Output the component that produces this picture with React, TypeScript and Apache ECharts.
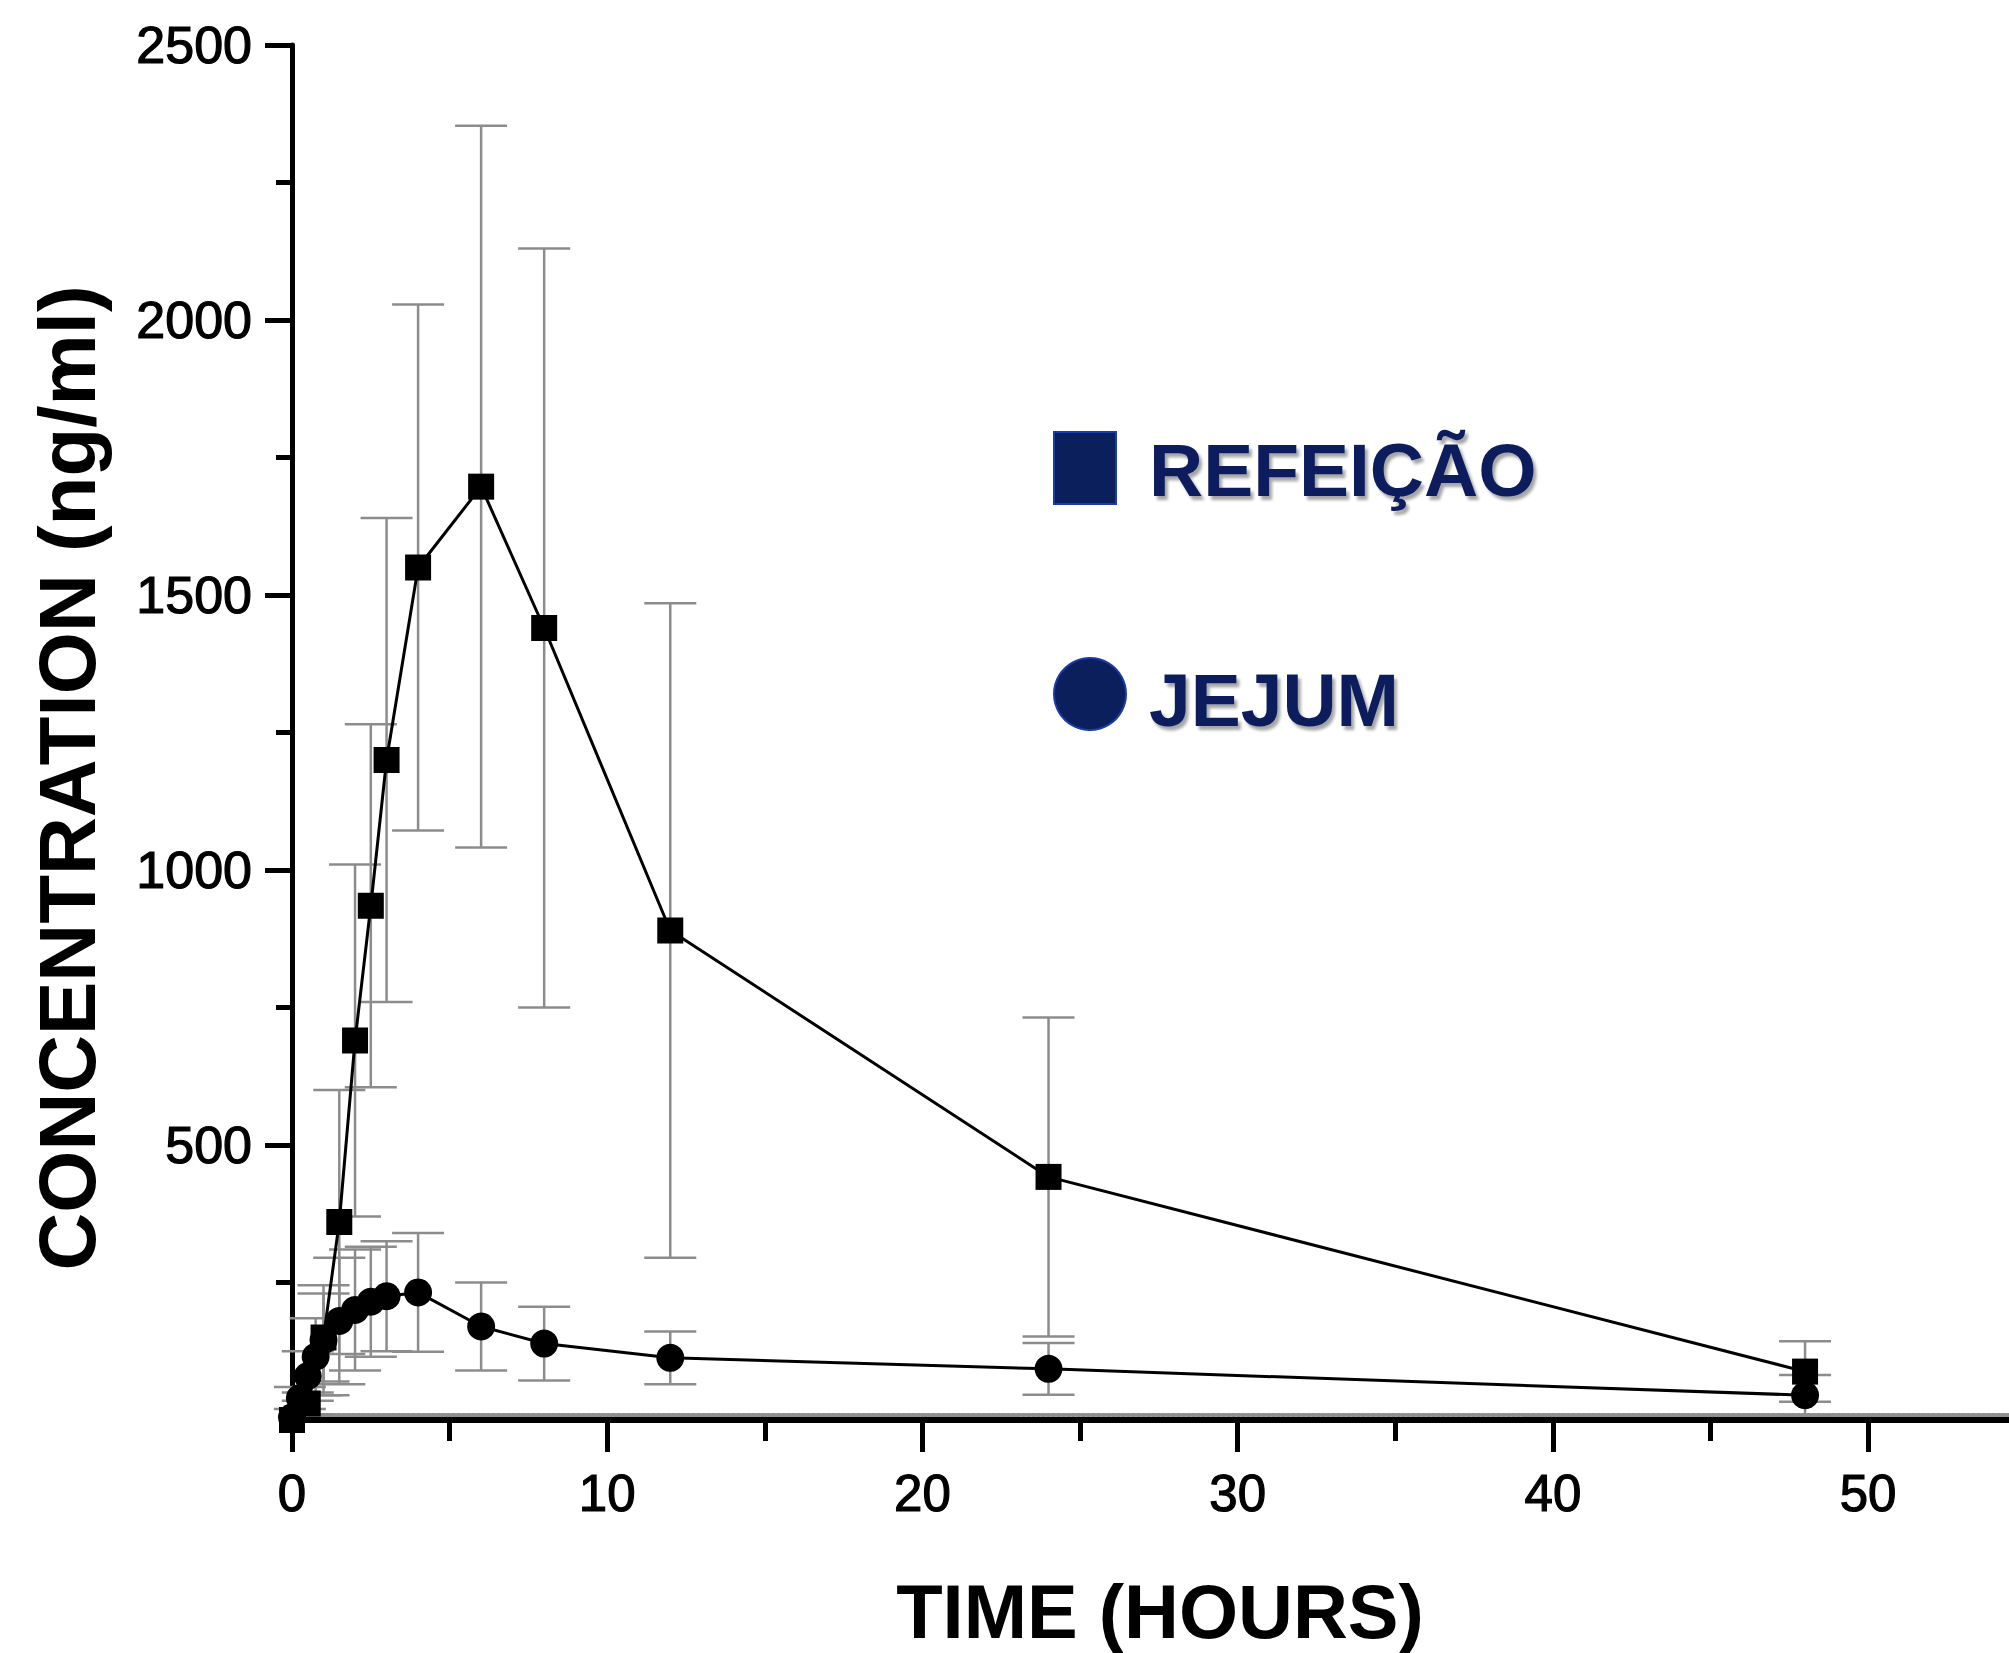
import React, { useEffect, useRef } from 'react';
import * as echarts from 'echarts';

// Time points (hours)
const refTimes = [0, 0.5, 1, 1.5, 2, 2.5, 3, 4, 6, 8, 12, 24, 48];
// REFEIÇÃO (fed) mean concentration (ng/ml) and SD
const refMean = [0, 30, 150, 360, 690, 935, 1200, 1550, 1697, 1440, 890, 442, 88];
const refSD = [0, 20, 80, 240, 320, 330, 440, 478, 656, 690, 595, 290, 55];

const jejTimes = [0, 0.25, 0.5, 0.75, 1, 1.5, 2, 2.5, 3, 4, 6, 8, 12, 24, 48];
// JEJUM (fasting) mean concentration (ng/ml) and SD
const jejMean = [5, 40, 80, 115, 145, 180, 200, 215, 225, 232, 170, 139, 113, 93, 45];
const jejSD = [0, 20, 45, 70, 100, 115, 110, 100, 100, 108, 80, 67, 48, 47, 37];

const yMajorTicks = [500, 1000, 1500, 2000, 2500];
const yMinorTicks = [250, 750, 1250, 1750, 2250];
const xMajorTicks = [0, 10, 20, 30, 40, 50];
const xMinorTicks = [5, 15, 25, 35, 45];

const legendLabels = ['REFEIÇÃO', 'JEJUM'];
const xTitle = 'TIME (HOURS)';
const yTitle = 'CONCENTRATION (ng/ml)';

export default function App() {
  const ref = useRef<HTMLDivElement>(null);
  useEffect(() => {
    document.body.style.margin = '0';
    const chart = echarts.init(ref.current as HTMLDivElement, null, { renderer: 'svg' });
    const font = '"Liberation Sans", Arial, sans-serif';
    const navy = '#0b1f5c';
    const xMax = 54.47;

    const errorSeries = (name: string, times: number[], mean: number[], sd: number[]) => ({
      type: 'custom',
      name: name + ' SD',
      z: 1,
      silent: true,
      data: times.map((t, i) => [t, mean[i] - sd[i], mean[i] + sd[i]]),
      encode: { x: 0, y: [1, 2] },
      renderItem: (params: any, api: any) => {
        const x = api.value(0);
        const lo = api.value(1);
        const hi = api.value(2);
        if (hi - lo <= 0) return { type: 'group', children: [] };
        const a = api.coord([x, hi]);
        const b = api.coord([x, Math.max(lo, 0)]);
        const hw = 26;
        const style = { stroke: '#8c8c8c', lineWidth: 2.5 };
        return {
          type: 'group',
          children: [
            { type: 'line', shape: { x1: a[0], y1: a[1], x2: b[0], y2: b[1] }, style },
            { type: 'line', shape: { x1: a[0] - hw, y1: a[1], x2: a[0] + hw, y2: a[1] }, style },
            { type: 'line', shape: { x1: b[0] - hw, y1: b[1], x2: b[0] + hw, y2: b[1] }, style },
          ],
        };
      },
    });

    const tickLabelStyle = { fontSize: 51, color: '#000', fontFamily: font, textBorderColor: '#000', textBorderWidth: 1.2 };
    const noSplit = { show: false };

    const option: any = {
      animation: false,
      backgroundColor: '#fff',
      grid: { left: 292, top: 45, right: 0, height: 1375, containLabel: false },
      xAxis: [
        {
          type: 'value', min: 0, max: xMax, interval: 10, position: 'bottom',
          axisLine: { show: true, onZero: false, lineStyle: { color: '#000', width: 6 } },
          axisTick: { show: true, length: 32, customValues: xMajorTicks, lineStyle: { width: 5, color: '#000' } },
          axisLabel: { ...tickLabelStyle, margin: 48, customValues: xMajorTicks, formatter: (v: number) => (xMajorTicks.includes(v) ? String(v) : '') },
          splitLine: noSplit,
        },
        {
          type: 'value', min: 0, max: xMax, interval: 5, position: 'bottom',
          axisLine: { show: false },
          axisTick: { show: true, length: 21, customValues: xMinorTicks, lineStyle: { width: 5, color: '#000' } },
          axisLabel: { show: false },
          splitLine: noSplit,
        },
        {
          type: 'value', min: 0, max: xMax, position: 'bottom', offset: -5,
          axisLine: { show: true, onZero: false, lineStyle: { color: '#8f8f8f', width: 4, type: [3, 2] } },
          axisTick: { show: false },
          axisLabel: { show: false },
          splitLine: noSplit,
        },
      ],
      yAxis: [
        {
          type: 'value', min: 0, max: 2500, interval: 500, position: 'left',
          axisLine: { show: true, onZero: false, lineStyle: { color: '#000', width: 5 } },
          axisTick: { show: true, length: 27, customValues: yMajorTicks, lineStyle: { width: 5, color: '#000' } },
          axisLabel: { ...tickLabelStyle, fontSize: 52, margin: 40, customValues: yMajorTicks, formatter: (v: number) => (yMajorTicks.includes(v) ? String(v) : '') },
          splitLine: noSplit,
        },
        {
          type: 'value', min: 0, max: 2500, interval: 250, position: 'left',
          axisLine: { show: false },
          axisTick: { show: true, length: 16, customValues: yMinorTicks, lineStyle: { width: 5, color: '#000' } },
          axisLabel: { show: false },
          splitLine: noSplit,
        },
      ],
      series: [
        errorSeries(legendLabels[0], refTimes, refMean, refSD),
        errorSeries(legendLabels[1], jejTimes, jejMean, jejSD),
        {
          type: 'line', name: legendLabels[0], z: 3,
          data: refTimes.map((t, i) => [t, refMean[i]]),
          symbol: 'rect', symbolSize: 26,
          itemStyle: { color: '#000' },
          lineStyle: { color: '#000', width: 3 },
        },
        {
          type: 'line', name: legendLabels[1], z: 3,
          data: jejTimes.map((t, i) => [t, jejMean[i]]),
          symbol: 'circle', symbolSize: 28,
          itemStyle: { color: '#000' },
          lineStyle: { color: '#000', width: 3 },
        },
      ],
      graphic: [
        {
          type: 'text', x: 67, y: 778, rotation: Math.PI / 2,
          style: { text: yTitle, font: `bold 80px ${font}`, fill: '#000', align: 'center', verticalAlign: 'middle' },
        },
        {
          type: 'text', x: 1160, y: 1611,
          style: { text: xTitle, font: `bold 76px ${font}`, fill: '#000', align: 'center', verticalAlign: 'middle' },
        },
        {
          type: 'rect', shape: { x: 1054, y: 432, width: 62, height: 72 },
          style: { fill: navy, stroke: '#1b3ca8', lineWidth: 2 },
        },
        {
          type: 'circle', shape: { cx: 1090, cy: 694, r: 36 },
          style: { fill: navy, stroke: '#1b3ca8', lineWidth: 2 },
        },
        {
          type: 'text', x: 1149, y: 470,
          style: {
            text: legendLabels[0], font: `bold 75px ${font}`, fill: navy, align: 'left', verticalAlign: 'middle',
            textShadowColor: 'rgba(0,0,0,0.35)', textShadowOffsetX: 3, textShadowOffsetY: 4, textShadowBlur: 3,
          },
        },
        {
          type: 'text', x: 1149, y: 700,
          style: {
            text: legendLabels[1], font: `bold 75px ${font}`, fill: navy, align: 'left', verticalAlign: 'middle',
            textShadowColor: 'rgba(0,0,0,0.35)', textShadowOffsetX: 3, textShadowOffsetY: 4, textShadowBlur: 3,
          },
        },
      ],
    };
    chart.setOption(option);
    return () => chart.dispose();
  }, []);
  return <div ref={ref} style={{ width: 2009, height: 1653, overflow: 'hidden', background: '#fff' }} />;
}
